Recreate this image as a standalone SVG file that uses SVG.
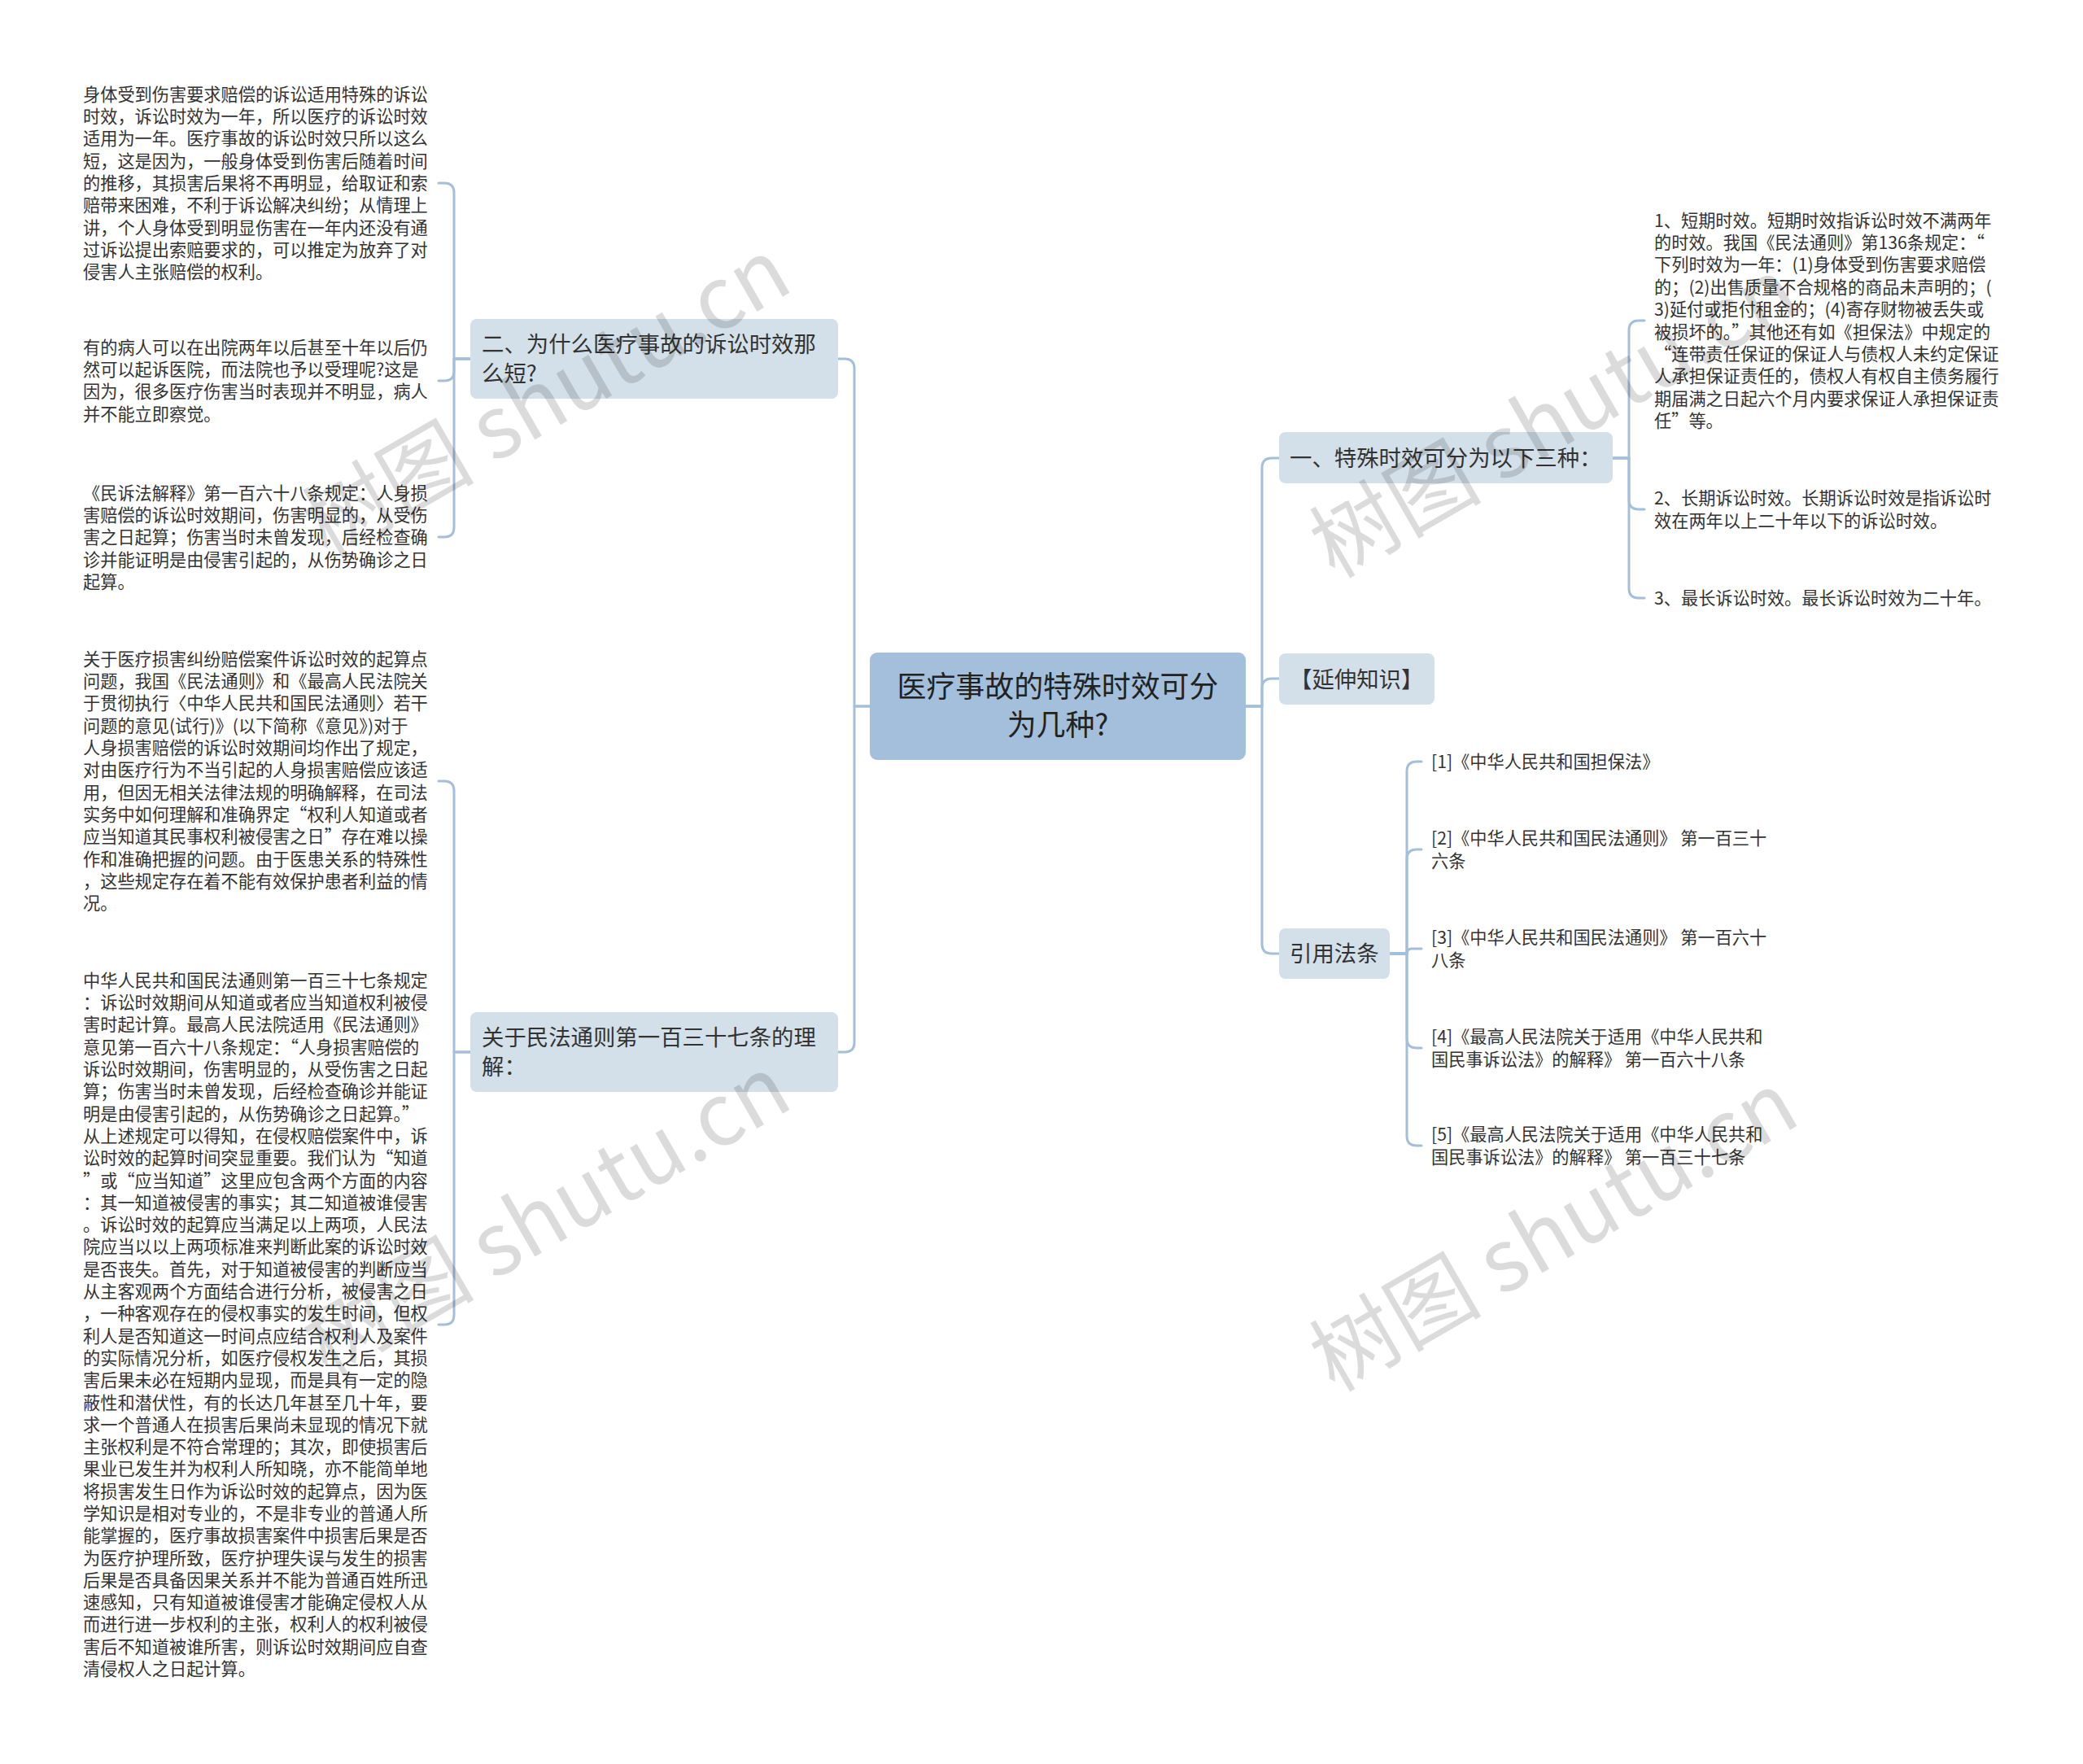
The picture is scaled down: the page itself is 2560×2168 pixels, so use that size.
<svg xmlns="http://www.w3.org/2000/svg" width="2560" height="2168" viewBox="0 0 2560 2168">
<style>
text{font-family:"Noto Sans CJK SC","Liberation Sans",sans-serif;fill:#333}
.leaf{font-size:21.2px}
.node{font-size:27.4px}
.root{font-size:35.9px;fill:#222}
.box{fill:#d3e0ea}
.rootbox{fill:#a3bfdb}
.wm{font-size:106px;fill:#000;fill-opacity:0.14}
#connectors path{fill:none;stroke:#a3bfd9;stroke-width:3;stroke-linecap:round;stroke-linejoin:round}
</style>
<rect width="2560" height="2168" fill="#fff"/>
<g id="connectors">
<path d="M1069,868 H1050 V453 Q1050,441 1038,441 H1030"/>
<path d="M1069,868 H1050 V1281 Q1050,1293 1038,1293 H1030"/>
<path d="M578,441 H558 V237 Q558,225 546,225 H539"/>
<path d="M578,441 H558 V456 Q558,468 546,468 H539"/>
<path d="M578,441 H558 V648 Q558,660 546,660 H539"/>
<path d="M578,1293 H558 V972 Q558,960 546,960 H539"/>
<path d="M578,1293 H558 V1616 Q558,1628 546,1628 H539"/>
<path d="M1531,868 H1551 V575 Q1551,563 1563,563 H1572"/>
<path d="M1531,868 H1551 V846 Q1551,834 1563,834 H1572"/>
<path d="M1531,868 H1551 V1160 Q1551,1172 1563,1172 H1572"/>
<path d="M1982,563 H2002 V406 Q2002,394 2014,394 H2021"/>
<path d="M1982,563 H2002 V614 Q2002,626 2014,626 H2021"/>
<path d="M1982,563 H2002 V723 Q2002,735 2014,735 H2021"/>
<path d="M1708,1172 H1729 V948 Q1729,936 1741,936 H1747"/>
<path d="M1708,1172 H1729 V1056 Q1729,1044 1741,1044 H1747"/>
<path d="M1708,1172 H1729 Q1729,1166 1735,1166 H1747"/>
<path d="M1708,1172 H1729 V1276 Q1729,1288 1741,1288 H1747"/>
<path d="M1708,1172 H1729 V1396 Q1729,1408 1741,1408 H1747"/>
</g>
<g id="root">
<rect class="rootbox" x="1069" y="802" width="462" height="132" rx="9"/>
<text class="root" text-anchor="middle"><tspan x="1300" y="857">医疗事故的特殊时效可分</tspan><tspan x="1300" y="904">为几种?</tspan></text>
</g>
<g id="n-why-short">
<rect class="box" x="578" y="392" width="452" height="98" rx="8"/>
<text class="node"><tspan x="592" y="433">二、为什么医疗事故的诉讼时效那</tspan><tspan x="592" y="469">么短?</tspan></text>
</g>
<g id="n-137">
<rect class="box" x="578" y="1244" width="452" height="98" rx="8"/>
<text class="node"><tspan x="592" y="1285">关于民法通则第一百三十七条的理</tspan><tspan x="592" y="1321">解：</tspan></text>
</g>
<g id="n-three">
<rect class="box" x="1572" y="531" width="410" height="63" rx="8"/>
<text class="node" x="1585" y="573">一、特殊时效可分为以下三种：</text>
</g>
<g id="n-ext">
<rect class="box" x="1572" y="803" width="191" height="63" rx="8"/>
<text class="node" x="1585" y="844.5">【延伸知识】</text>
</g>
<g id="n-law">
<rect class="box" x="1572" y="1141" width="136" height="62" rx="8"/>
<text class="node" x="1585" y="1182">引用法条</text>
</g>
<g id="leaf-a">
<text class="leaf" x="102" y="123.8"><tspan x="102">身体受到伤害要求赔偿的诉讼适用特殊的诉讼</tspan><tspan x="102" dy="27.3">时效，诉讼时效为一年，所以医疗的诉讼时效</tspan><tspan x="102" dy="27.3">适用为一年。医疗事故的诉讼时效只所以这么</tspan><tspan x="102" dy="27.3">短，这是因为，一般身体受到伤害后随着时间</tspan><tspan x="102" dy="27.3">的推移，其损害后果将不再明显，给取证和索</tspan><tspan x="102" dy="27.3">赔带来困难，不利于诉讼解决纠纷；从情理上</tspan><tspan x="102" dy="27.3">讲，个人身体受到明显伤害在一年内还没有通</tspan><tspan x="102" dy="27.3">过诉讼提出索赔要求的，可以推定为放弃了对</tspan><tspan x="102" dy="27.3">侵害人主张赔偿的权利。</tspan></text>
</g>
<g id="leaf-b">
<text class="leaf" x="102" y="434.8"><tspan x="102">有的病人可以在出院两年以后甚至十年以后仍</tspan><tspan x="102" dy="27.3">然可以起诉医院，而法院也予以受理呢?这是</tspan><tspan x="102" dy="27.3">因为，很多医疗伤害当时表现并不明显，病人</tspan><tspan x="102" dy="27.3">并不能立即察觉。</tspan></text>
</g>
<g id="leaf-c">
<text class="leaf" x="102" y="613.8"><tspan x="102">《民诉法解释》第一百六十八条规定：人身损</tspan><tspan x="102" dy="27.3">害赔偿的诉讼时效期间，伤害明显的，从受伤</tspan><tspan x="102" dy="27.3">害之日起算；伤害当时未曾发现，后经检查确</tspan><tspan x="102" dy="27.3">诊并能证明是由侵害引起的，从伤势确诊之日</tspan><tspan x="102" dy="27.3">起算。</tspan></text>
</g>
<g id="leaf-d">
<text class="leaf" x="102" y="817.8"><tspan x="102">关于医疗损害纠纷赔偿案件诉讼时效的起算点</tspan><tspan x="102" dy="27.3">问题，我国《民法通则》和《最高人民法院关</tspan><tspan x="102" dy="27.3">于贯彻执行〈中华人民共和国民法通则〉若干</tspan><tspan x="102" dy="27.3">问题的意见(试行)》(以下简称《意见》)对于</tspan><tspan x="102" dy="27.3">人身损害赔偿的诉讼时效期间均作出了规定，</tspan><tspan x="102" dy="27.3">对由医疗行为不当引起的人身损害赔偿应该适</tspan><tspan x="102" dy="27.3">用，但因无相关法律法规的明确解释，在司法</tspan><tspan x="102" dy="27.3">实务中如何理解和准确界定“权利人知道或者</tspan><tspan x="102" dy="27.3">应当知道其民事权利被侵害之日”存在难以操</tspan><tspan x="102" dy="27.3">作和准确把握的问题。由于医患关系的特殊性</tspan><tspan x="102" dy="27.3">，这些规定存在着不能有效保护患者利益的情</tspan><tspan x="102" dy="27.3">况。</tspan></text>
</g>
<g id="leaf-e">
<text class="leaf" x="102" y="1212.8"><tspan x="102">中华人民共和国民法通则第一百三十七条规定</tspan><tspan x="102" dy="27.3">：诉讼时效期间从知道或者应当知道权利被侵</tspan><tspan x="102" dy="27.3">害时起计算。最高人民法院适用《民法通则》</tspan><tspan x="102" dy="27.3">意见第一百六十八条规定：“人身损害赔偿的</tspan><tspan x="102" dy="27.3">诉讼时效期间，伤害明显的，从受伤害之日起</tspan><tspan x="102" dy="27.3">算；伤害当时未曾发现，后经检查确诊并能证</tspan><tspan x="102" dy="27.3">明是由侵害引起的，从伤势确诊之日起算。”</tspan><tspan x="102" dy="27.3">从上述规定可以得知，在侵权赔偿案件中，诉</tspan><tspan x="102" dy="27.3">讼时效的起算时间突显重要。我们认为“知道</tspan><tspan x="102" dy="27.3">”或“应当知道”这里应包含两个方面的内容</tspan><tspan x="102" dy="27.3">：其一知道被侵害的事实；其二知道被谁侵害</tspan><tspan x="102" dy="27.3">。诉讼时效的起算应当满足以上两项，人民法</tspan><tspan x="102" dy="27.3">院应当以以上两项标准来判断此案的诉讼时效</tspan><tspan x="102" dy="27.3">是否丧失。首先，对于知道被侵害的判断应当</tspan><tspan x="102" dy="27.3">从主客观两个方面结合进行分析，被侵害之日</tspan><tspan x="102" dy="27.3">，一种客观存在的侵权事实的发生时间，但权</tspan><tspan x="102" dy="27.3">利人是否知道这一时间点应结合权利人及案件</tspan><tspan x="102" dy="27.3">的实际情况分析，如医疗侵权发生之后，其损</tspan><tspan x="102" dy="27.3">害后果未必在短期内显现，而是具有一定的隐</tspan><tspan x="102" dy="27.3">蔽性和潜伏性，有的长达几年甚至几十年，要</tspan><tspan x="102" dy="27.3">求一个普通人在损害后果尚未显现的情况下就</tspan><tspan x="102" dy="27.3">主张权利是不符合常理的；其次，即使损害后</tspan><tspan x="102" dy="27.3">果业已发生并为权利人所知晓，亦不能简单地</tspan><tspan x="102" dy="27.3">将损害发生日作为诉讼时效的起算点，因为医</tspan><tspan x="102" dy="27.3">学知识是相对专业的，不是非专业的普通人所</tspan><tspan x="102" dy="27.3">能掌握的，医疗事故损害案件中损害后果是否</tspan><tspan x="102" dy="27.3">为医疗护理所致，医疗护理失误与发生的损害</tspan><tspan x="102" dy="27.3">后果是否具备因果关系并不能为普通百姓所迅</tspan><tspan x="102" dy="27.3">速感知，只有知道被谁侵害才能确定侵权人从</tspan><tspan x="102" dy="27.3">而进行进一步权利的主张，权利人的权利被侵</tspan><tspan x="102" dy="27.3">害后不知道被谁所害，则诉讼时效期间应自查</tspan><tspan x="102" dy="27.3">清侵权人之日起计算。</tspan></text>
</g>
<g id="leaf-r1">
<text class="leaf" x="2033" y="278.5"><tspan x="2033">1、短期时效。短期时效指诉讼时效不满两年</tspan><tspan x="2033" dy="27.4">的时效。我国《民法通则》第136条规定：“</tspan><tspan x="2033" dy="27.4">下列时效为一年：(1)身体受到伤害要求赔偿</tspan><tspan x="2033" dy="27.4">的；(2)出售质量不合规格的商品未声明的；(</tspan><tspan x="2033" dy="27.4">3)延付或拒付租金的；(4)寄存财物被丢失或</tspan><tspan x="2033" dy="27.4">被损坏的。”其他还有如《担保法》中规定的</tspan><tspan x="2033" dy="27.4">“连带责任保证的保证人与债权人未约定保证</tspan><tspan x="2033" dy="27.4">人承担保证责任的，债权人有权自主债务履行</tspan><tspan x="2033" dy="27.4">期届满之日起六个月内要求保证人承担保证责</tspan><tspan x="2033" dy="27.4">任”等。</tspan></text>
</g>
<g id="leaf-r2">
<text class="leaf" x="2033" y="620.1"><tspan x="2033">2、长期诉讼时效。长期诉讼时效是指诉讼时</tspan><tspan x="2033" dy="27.4">效在两年以上二十年以下的诉讼时效。</tspan></text>
</g>
<g id="leaf-r3">
<text class="leaf" x="2033" y="742.8">3、最长诉讼时效。最长诉讼时效为二十年。</text>
</g>
<g id="ref-1">
<text class="leaf" x="1759" y="943.8">[1]《中华人民共和国担保法》</text>
</g>
<g id="ref-2">
<text class="leaf" x="1759" y="1038.1"><tspan x="1759">[2]《中华人民共和国民法通则》 第一百三十</tspan><tspan x="1759" dy="27.4">六条</tspan></text>
</g>
<g id="ref-3">
<text class="leaf" x="1759" y="1160.1"><tspan x="1759">[3]《中华人民共和国民法通则》 第一百六十</tspan><tspan x="1759" dy="27.4">八条</tspan></text>
</g>
<g id="ref-4">
<text class="leaf" x="1759" y="1282.1"><tspan x="1759">[4]《最高人民法院关于适用《中华人民共和</tspan><tspan x="1759" dy="27.4">国民事诉讼法》的解释》 第一百六十八条</tspan></text>
</g>
<g id="ref-5">
<text class="leaf" x="1759" y="1402.1"><tspan x="1759">[5]《最高人民法院关于适用《中华人民共和</tspan><tspan x="1759" dy="27.4">国民事诉讼法》的解释》 第一百三十七条</tspan></text>
</g>
<g id="watermarks">
<text class="wm" transform="translate(402,688) rotate(-30)">树图 shutu.cn</text>
<text class="wm" transform="translate(1640,712) rotate(-30)">树图 shutu.cn</text>
<text class="wm" transform="translate(402,1692) rotate(-30)">树图 shutu.cn</text>
<text class="wm" transform="translate(1640,1712) rotate(-30)">树图 shutu.cn</text>
</g>
</svg>
